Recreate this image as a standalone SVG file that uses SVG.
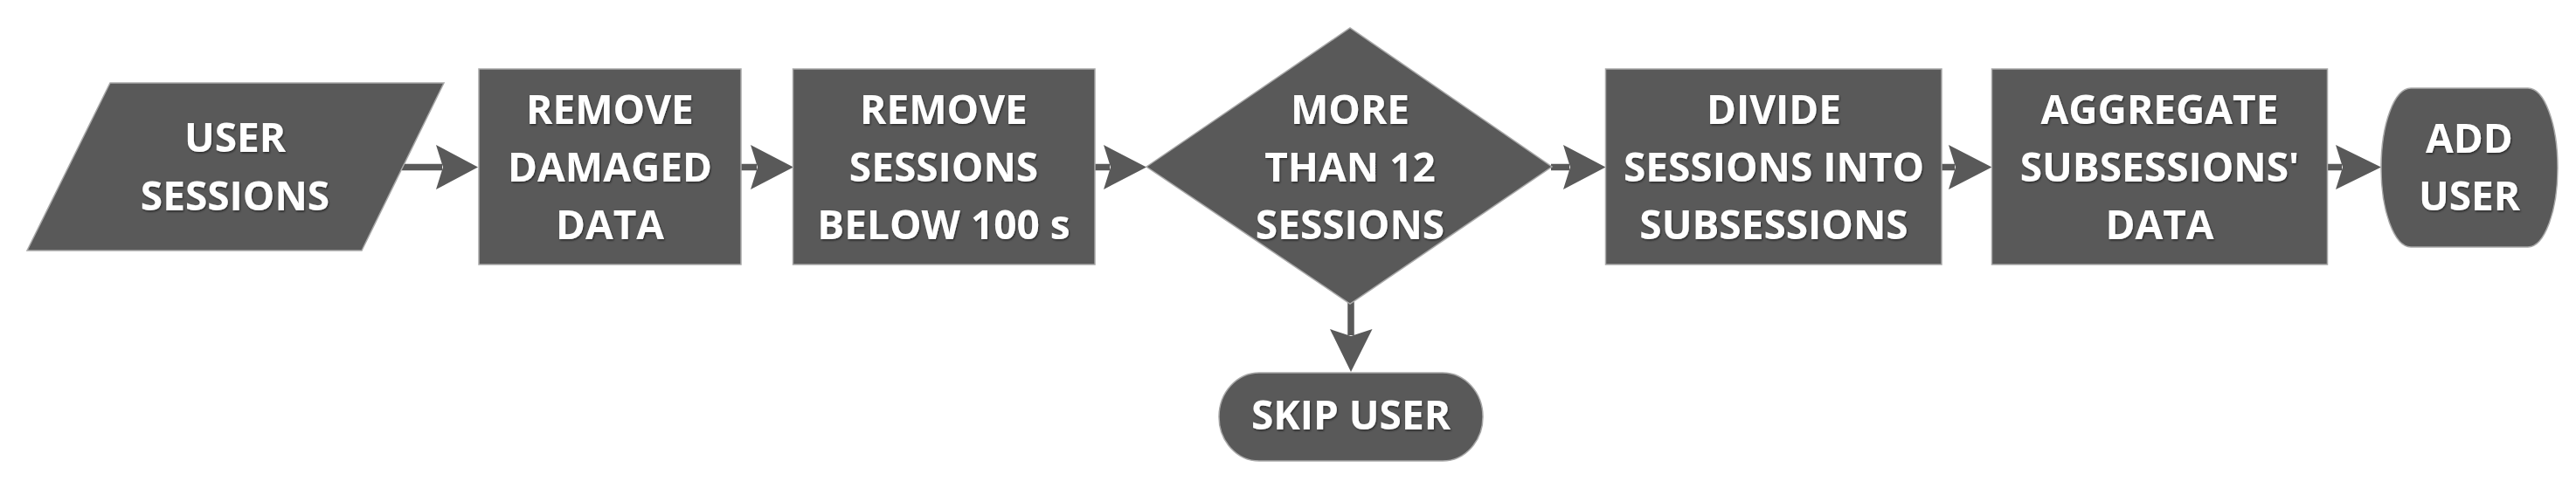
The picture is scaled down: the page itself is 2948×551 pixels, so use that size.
<svg xmlns="http://www.w3.org/2000/svg" width="2948" height="551" viewBox="0 0 2948 551">
  <style>
    .shape { fill: #595959; stroke: #a8a8a8; stroke-width: 1.5; }
    .label { font-family: "Open Sans", "Liberation Sans", sans-serif; font-weight: 700; font-size: 46px; fill: #ffffff; text-anchor: middle; filter: url(#tshadow); }
    .line { stroke: #595959; stroke-width: 7.5; fill: none; }
    .head { fill: #595959; }
  </style>
  <defs>
    <filter id="tshadow" x="-10%" y="-20%" width="120%" height="140%">
      <feDropShadow dx="1" dy="1.5" stdDeviation="1.2" flood-color="#000000" flood-opacity="0.55"/>
    </filter>
  </defs>
  <rect width="2948" height="551" fill="#ffffff"/>

  <g id="connectors">
    <line class="line" x1="460" y1="191.5" x2="506" y2="191.5"/>
    <polygon class="head" points="499,166 547,191.5 499,217 507,191.5"/>
    <line class="line" x1="848" y1="191.5" x2="866" y2="191.5"/>
    <polygon class="head" points="859,166 908,191.5 859,217 867,191.5"/>
    <line class="line" x1="1253" y1="191.5" x2="1270" y2="191.5"/>
    <polygon class="head" points="1263,166 1312,191.5 1263,217 1271,191.5"/>
    <line class="line" x1="1775" y1="191.5" x2="1796" y2="191.5"/>
    <polygon class="head" points="1789,166 1837.5,191.5 1789,217 1797,191.5"/>
    <line class="line" x1="2222" y1="191.5" x2="2237" y2="191.5"/>
    <polygon class="head" points="2230,166 2279.5,191.5 2230,217 2238,191.5"/>
    <line class="line" x1="2663.5" y1="191.5" x2="2680" y2="191.5"/>
    <polygon class="head" points="2673,166 2725,191.5 2673,217 2681,191.5"/>
    <line class="line" x1="1546" y1="346" x2="1546" y2="384"/>
    <polygon class="head" points="1522,377 1546,385 1570.5,377 1546,426"/>
  </g>

  <g id="user-sessions">
    <polygon class="shape" points="126,95 508,95 414,287 31,287"/>
    <text class="label" x="269" y="174">USER</text>
    <text class="label" x="269" y="241">SESSIONS</text>
  </g>

  <g id="remove-damaged">
    <rect class="shape" x="548" y="79" width="300" height="224"/>
    <text class="label" x="698" y="141.5">REMOVE</text>
    <text class="label" x="698" y="208">DAMAGED</text>
    <text class="label" x="698" y="273.5">DATA</text>
  </g>

  <g id="remove-short">
    <rect class="shape" x="907.5" y="79" width="345.5" height="224"/>
    <text class="label" x="1080" y="141.5">REMOVE</text>
    <text class="label" x="1080" y="208">SESSIONS</text>
    <text class="label" x="1080" y="273.5">BELOW 100 s</text>
  </g>

  <g id="decision">
    <polygon class="shape" points="1312,191 1545,32 1776,191 1545,348"/>
    <text class="label" x="1545" y="141.5">MORE</text>
    <text class="label" x="1545" y="208">THAN 12</text>
    <text class="label" x="1545" y="273.5">SESSIONS</text>
  </g>

  <g id="divide">
    <rect class="shape" x="1837.5" y="79" width="384.5" height="224"/>
    <text class="label" x="2030" y="141.5">DIVIDE</text>
    <text class="label" x="2030" y="208">SESSIONS INTO</text>
    <text class="label" x="2030" y="273.5">SUBSESSIONS</text>
  </g>

  <g id="aggregate">
    <rect class="shape" x="2279.5" y="79" width="384" height="224"/>
    <text class="label" x="2471.5" y="141.5">AGGREGATE</text>
    <text class="label" x="2471.5" y="208">SUBSESSIONS'</text>
    <text class="label" x="2471.5" y="273.5">DATA</text>
  </g>

  <g id="add-user">
    <rect class="shape" x="2725" y="101" width="202" height="182" rx="34" ry="91"/>
    <text class="label" x="2826" y="175">ADD</text>
    <text class="label" x="2826" y="240.5">USER</text>
  </g>

  <g id="skip-user">
    <rect class="shape" x="1395" y="427" width="302" height="101" rx="46" ry="50.5"/>
    <text class="label" x="1546" y="492">SKIP USER</text>
  </g>
</svg>
